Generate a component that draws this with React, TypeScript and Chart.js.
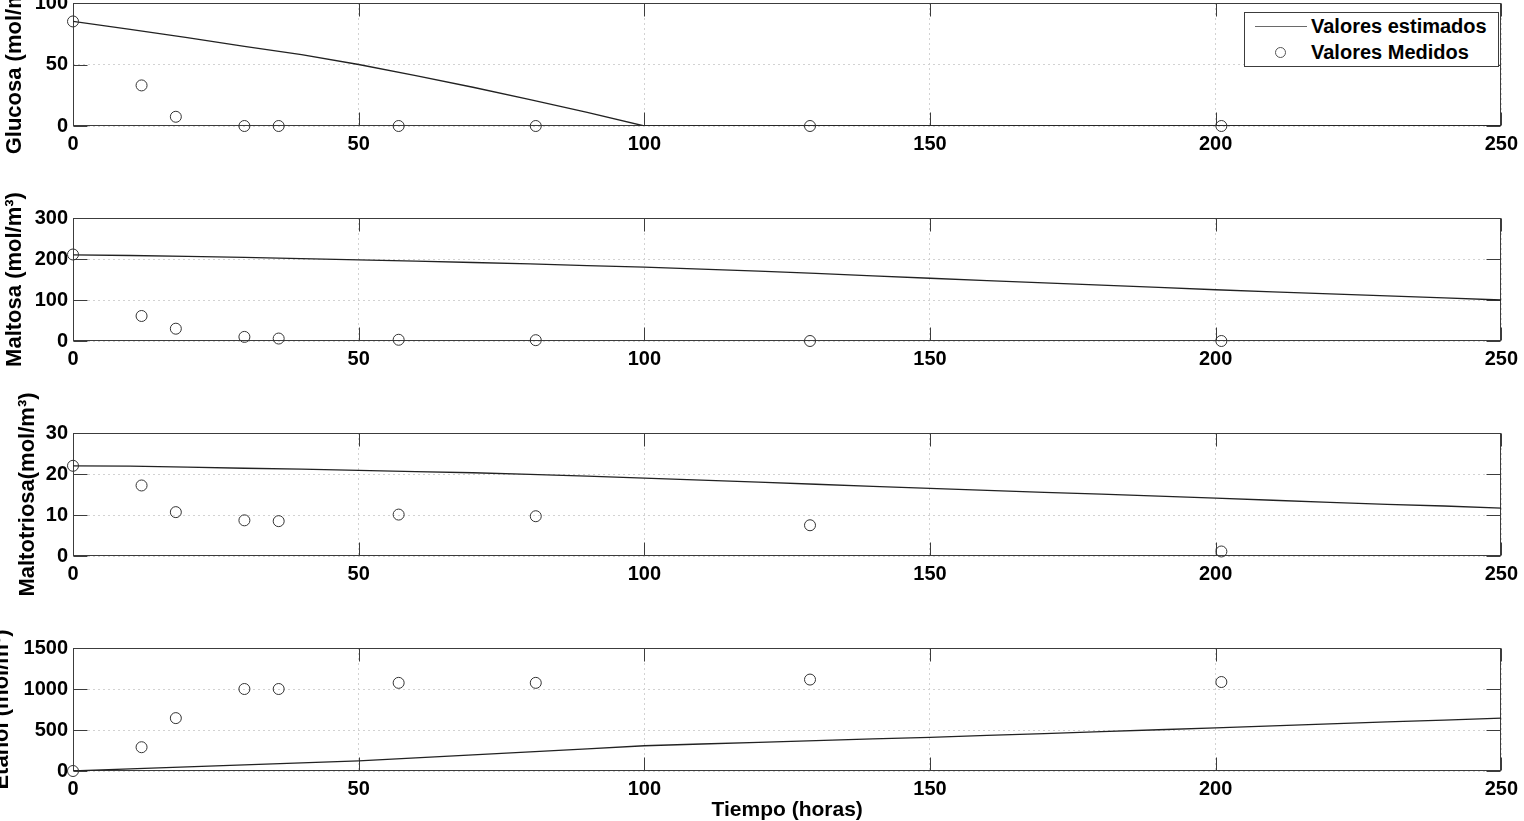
import React, { useEffect, useRef } from 'react';
import { Chart, registerables } from 'chart.js';

Chart.register(...registerables);

// ---------- data ----------
const tiempoMedido = [0, 12, 18, 30, 36, 57, 81, 129, 201];
const glucosaMedida = [85, 33, 7.5, 0, 0, 0, 0, 0, 0];
const maltosaMedida = [211, 61, 30, 10, 6, 3, 2, 0, 0];
const maltotriosaMedida = [22, 17.2, 10.7, 8.7, 8.5, 10.1, 9.7, 7.5, 1.1];
const etanolMedido = [0, 290, 645, 1000, 1000, 1075, 1075, 1115, 1085];

const tiempoModelo = [0, 10, 20, 30, 40, 50, 60, 70, 80, 90, 100, 110, 120, 130, 140, 150, 160, 170, 180, 190, 200, 210, 220, 230, 240, 250];
const glucosaEstimada = [85, 78.5, 71.8, 64.8, 58, 50, 41, 31.5, 21.5, 11, 0, 0, 0, 0, 0, 0, 0, 0, 0, 0, 0, 0, 0, 0, 0, 0];
const maltosaEstimada = [210, 208.5, 206.5, 204, 201, 198, 195, 191.5, 188, 184, 180, 175.5, 170.5, 165, 159, 153, 147.5, 142, 136.5, 131, 125, 120, 115, 110, 105, 100];
const maltotriosaEstimada = [22, 21.9, 21.7, 21.4, 21.2, 20.9, 20.6, 20.3, 19.9, 19.5, 19.0, 18.5, 18.0, 17.5, 17.0, 16.5, 16.0, 15.5, 15.1, 14.6, 14.1, 13.6, 13.1, 12.6, 12.2, 11.7];
const etanolEstimado = [0, 25, 50, 74, 99, 123, 160, 197, 234, 271, 308, 329, 350, 371, 391, 411, 434, 457, 480, 503, 526, 550, 574, 598, 621, 645];

const xTicksMax = 250;
const xTickStep = 50;
const yLabels = ['Glucosa (mol/m³)', 'Maltosa (mol/m³)', 'Maltotriosa(mol/m³)', 'Etanol (mol/m³)'];
const yMax = [100, 300, 30, 1500];
const yStep = [50, 100, 10, 500];
const estimados = [glucosaEstimada, maltosaEstimada, maltotriosaEstimada, etanolEstimado];
const medidos = [glucosaMedida, maltosaMedida, maltotriosaMedida, etanolMedido];
const xTitle = 'Tiempo (horas)';
const legendLabels = ['Valores estimados', 'Valores Medidos'];

// ---------- layout ----------
const FONT = "'Liberation Sans', Arial, Helvetica, sans-serif";
const plotTops = [3, 218, 433, 648];
const PLOT_H = 123;
const PAD_TOP = 45;
const titlePads = [2, 2, 15, -11];

const matlabAxes = {
  id: 'matlabAxes',
  beforeDatasetsDraw(chart: any) {
    const { ctx, chartArea, scales } = chart;
    const { left, right, top, bottom } = chartArea;
    const x = scales.x;
    const y = scales.y;
    ctx.save();
    ctx.setLineDash([]);
    ctx.strokeStyle = '#3c3c3c';
    ctx.lineWidth = 1;
    const L = Math.round(left) + 0.5;
    const R = Math.round(right) - 0.5;
    const T = Math.round(top) + 0.5;
    const B = Math.round(bottom) - 0.5;
    ctx.strokeRect(L, T, R - L, B - T);
    ctx.beginPath();
    x.ticks.forEach((t: any) => {
      const px = Math.round(x.getPixelForValue(t.value)) + 0.5;
      ctx.moveTo(px, B);
      ctx.lineTo(px, B - 13);
      ctx.moveTo(px, T);
      ctx.lineTo(px, T + 13);
    });
    y.ticks.forEach((t: any) => {
      const py = Math.round(y.getPixelForValue(t.value)) + 0.5;
      ctx.moveTo(L, py);
      ctx.lineTo(L + 14, py);
      ctx.moveTo(R, py);
      ctx.lineTo(R - 14, py);
    });
    ctx.stroke();
    ctx.restore();
  },
};

function Panel({ idx }: { idx: number }) {
  const ref = useRef<HTMLCanvasElement>(null);
  const last = idx === 3;
  const xH = last ? 50 : 62;
  const h = PAD_TOP + PLOT_H + xH;
  const top = plotTops[idx] - PAD_TOP;

  useEffect(() => {
    if (!ref.current) return;
    const chart = new Chart(ref.current, {
      type: 'line',
      data: {
        datasets: [
          {
            type: 'line',
            label: legendLabels[0],
            data: tiempoModelo.map((t, i) => ({ x: t, y: estimados[idx][i] })),
            borderColor: '#222',
            borderWidth: 1.3,
            pointRadius: 0,
            fill: false,
            tension: 0,
            order: 2,
          },
          {
            type: 'scatter',
            label: legendLabels[1],
            data: tiempoMedido.map((t, i) => ({ x: t, y: medidos[idx][i] })),
            showLine: false,
            pointStyle: 'circle',
            pointRadius: 5.5,
            pointBorderWidth: 1,
            pointBorderColor: '#333',
            pointBackgroundColor: 'rgba(0,0,0,0)',
            clip: false,
            order: 1,
          } as any,
        ],
      },
      options: {
        responsive: false,
        animation: false,
        events: [],
        devicePixelRatio: 1,
        layout: { padding: { top: PAD_TOP, right: 17, left: 0, bottom: 0 } },
        plugins: { legend: { display: false }, tooltip: { enabled: false } },
        scales: {
          x: {
            type: 'linear',
            min: 0,
            max: xTicksMax,
            ticks: {
              stepSize: xTickStep,
              color: '#000',
              font: { family: FONT, size: 20, weight: 'bold' },
              padding: 6,
              maxRotation: 0,
              autoSkip: false,
              callback: (v: any) => String(v),
            },
            grid: { color: '#d2d2d2', drawTicks: false, lineWidth: 1 },
            border: { display: false, dash: [2, 3] },
            title: {
              display: last,
              text: xTitle,
              color: '#000',
              font: { family: FONT, size: 21, weight: 'bold' },
              padding: { top: 0, bottom: -2 },
            },
            afterFit: (s: any) => {
              s.height = xH;
            },
          },
          y: {
            type: 'linear',
            min: 0,
            max: yMax[idx],
            ticks: {
              stepSize: yStep[idx],
              color: '#000',
              font: { family: FONT, size: 20, weight: 'bold' },
              padding: 5,
              autoSkip: false,
              callback: (v: any) => String(v),
            },
            grid: { color: '#d2d2d2', drawTicks: false, lineWidth: 1 },
            border: { display: false, dash: [2, 3] },
            title: {
              display: true,
              text: yLabels[idx],
              color: '#000',
              font: { family: FONT, size: 22, weight: 'bold' },
              padding: { top: titlePads[idx], bottom: 0 },
            },
            afterFit: (s: any) => {
              s.width = 73;
            },
          },
        },
      } as any,
      plugins: [matlabAxes],
    });
    return () => chart.destroy();
  }, []);

  return (
    <canvas
      ref={ref}
      width={1524}
      height={h}
      style={{ position: 'absolute', left: 0, top, width: 1524, height: h, display: 'block' }}
    />
  );
}

function Legend() {
  const text: React.CSSProperties = {
    position: 'absolute',
    left: 1311,
    fontFamily: FONT,
    fontWeight: 'bold',
    fontSize: 20,
    lineHeight: '24px',
    color: '#000',
    whiteSpace: 'nowrap',
  };
  return (
    <>
      <div
        style={{
          position: 'absolute',
          left: 1244,
          top: 12,
          width: 255,
          height: 55,
          boxSizing: 'border-box',
          border: '1px solid #3c3c3c',
          background: '#fff',
        }}
      />
      <div style={{ position: 'absolute', left: 1255, top: 26, width: 52, height: 0, borderTop: '1px solid #6a6a6a' }} />
      <div style={{ ...text, top: 14 }}>{legendLabels[0]}</div>
      <div
        style={{
          position: 'absolute',
          left: 1275,
          top: 47,
          width: 9,
          height: 9,
          borderRadius: '50%',
          border: '1px solid #555',
          boxSizing: 'content-box',
        }}
      />
      <div style={{ ...text, top: 40 }}>{legendLabels[1]}</div>
    </>
  );
}

export default function App() {
  return (
    <div
      style={{
        position: 'fixed',
        left: 0,
        top: 0,
        width: 1524,
        height: 821,
        overflow: 'hidden',
        background: '#fff',
      }}
    >
      {[0, 1, 2, 3].map((i) => (
        <Panel key={i} idx={i} />
      ))}
      <Legend />
    </div>
  );
}
